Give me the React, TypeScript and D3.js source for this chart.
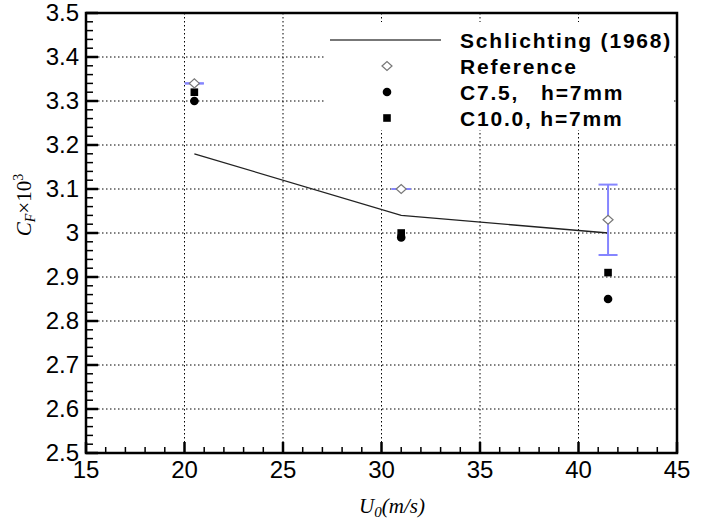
import React, { useEffect, useRef } from 'react';
import * as d3 from 'd3';

// free-stream speed (m/s) of the three test cases
const speeds = [20.5, 31, 41.5];
const schlichting = [3.18, 3.04, 3.0];
const reference = [3.34, 3.1, 3.03];
const referenceErr = [0, 0, 0.08];
const c75 = [3.3, 2.99, 2.85];
const c100 = [3.32, 3.0, 2.91];

const xTicks = [15, 20, 25, 30, 35, 40, 45];
const yTicks = [2.5, 2.6, 2.7, 2.8, 2.9, 3, 3.1, 3.2, 3.3, 3.4, 3.5];

const legendItems = ['Schlichting (1968)', 'Reference', 'C7.5,', 'C10.0, h=7mm'];

const App = () => {
  const svgRef = useRef<SVGSVGElement>(null);

  useEffect(() => {
    const svg = d3.select(svgRef.current);
    svg.selectAll('*').remove();

    const left = 86, right = 677, top = 13, bottom = 453;
    const x = d3.scaleLinear().domain([15, 45]).range([left, right]);
    const y = d3.scaleLinear().domain([2.5, 3.5]).range([bottom, top]);

    const tickFont = '"Liberation Sans", Arial, sans-serif';

    // dotted grid
    const grid = svg.append('g').attr('stroke', '#000').attr('stroke-width', 1)
      .attr('stroke-dasharray', '1.5,2.5');
    xTicks.slice(1, -1).forEach(t => {
      grid.append('line').attr('x1', x(t)).attr('x2', x(t)).attr('y1', top).attr('y2', bottom);
    });
    yTicks.slice(1, -1).forEach(t => {
      grid.append('line').attr('x1', left).attr('x2', right).attr('y1', y(t)).attr('y2', y(t));
    });

    // legend box
    svg.append('rect')
      .attr('x', 324).attr('y', 22).attr('width', 348).attr('height', 108)
      .attr('fill', '#fff');

    // Schlichting line
    const line = d3.line<number>()
      .x((d, i) => x(speeds[i]))
      .y(d => y(d));
    svg.append('path')
      .datum(schlichting)
      .attr('d', line)
      .attr('fill', 'none')
      .attr('stroke', '#222')
      .attr('stroke-width', 1.3);

    // error bars on reference
    const eb = svg.append('g').attr('stroke', '#8585ff').attr('stroke-width', 2);
    reference.forEach((v, i) => {
      const cx = x(speeds[i]);
      const hi = y(v + referenceErr[i]);
      const lo = y(v - referenceErr[i]);
      eb.append('line').attr('x1', cx).attr('x2', cx).attr('y1', hi).attr('y2', lo);
      eb.append('line').attr('x1', cx - 9.5).attr('x2', cx + 9.5).attr('y1', hi).attr('y2', hi);
      eb.append('line').attr('x1', cx - 9.5).attr('x2', cx + 9.5).attr('y1', lo).attr('y2', lo);
    });

    const diamond = (cx: number, cy: number) =>
      `M${cx - 5},${cy}L${cx},${cy - 4.5}L${cx + 5},${cy}L${cx},${cy + 4.5}Z`;

    // C10.0 squares
    svg.selectAll('.sq').data(c100).enter().append('rect')
      .attr('x', (d, i) => x(speeds[i]) - 3.8)
      .attr('y', d => y(d) - 3.8)
      .attr('width', 7.6).attr('height', 7.6)
      .attr('fill', '#000');

    // C7.5 circles
    svg.selectAll('.ci').data(c75).enter().append('circle')
      .attr('cx', (d, i) => x(speeds[i]))
      .attr('cy', d => y(d))
      .attr('r', 4.3)
      .attr('fill', '#000');

    // reference diamonds
    svg.selectAll('.di').data(reference).enter().append('path')
      .attr('d', (d, i) => diamond(x(speeds[i]), y(d)))
      .attr('fill', '#fff')
      .attr('stroke', '#777')
      .attr('stroke-width', 1.2);

    // ticks
    const ticks = svg.append('g').attr('stroke', '#000');
    d3.range(15, 45.01, 1).forEach(t => {
      const major = Math.abs(t % 5) < 1e-6;
      ticks.append('line')
        .attr('x1', x(t)).attr('x2', x(t))
        .attr('y1', bottom).attr('y2', bottom - (major ? 11 : 6))
        .attr('stroke-width', major ? 2.5 : 1.5);
    });
    d3.range(0, 51).forEach(k => {
      const t = 2.5 + k * 0.02;
      const major = k % 5 === 0;
      ticks.append('line')
        .attr('x1', left).attr('x2', left + (major ? 12 : 7))
        .attr('y1', y(t)).attr('y2', y(t))
        .attr('stroke-width', major ? 2.5 : 1.5);
    });

    // frame
    svg.append('rect')
      .attr('x', left).attr('y', top)
      .attr('width', right - left).attr('height', bottom - top)
      .attr('fill', 'none').attr('stroke', '#000').attr('stroke-width', 2.5);

    // tick labels
    svg.selectAll('.xt').data(xTicks).enter().append('text')
      .attr('x', d => x(d)).attr('y', 478)
      .attr('text-anchor', 'middle')
      .style('font-family', tickFont).style('font-size', '24px')
      .text(d => d);
    svg.selectAll('.yt').data(yTicks).enter().append('text')
      .attr('x', 79).attr('y', d => y(d) - 1).attr('dy', '0.36em')
      .attr('text-anchor', 'end')
      .style('font-family', tickFont).style('font-size', '24px')
      .text(d => d);

    // axis titles
    const serif = '"Liberation Serif", "Times New Roman", serif';
    const xl = svg.append('text')
      .attr('x', 392).attr('y', 513).attr('text-anchor', 'middle')
      .style('font-family', serif).style('font-size', '21px').style('font-style', 'italic');
    xl.append('tspan').text('U');
    xl.append('tspan').attr('dy', 4).style('font-size', '15px').text('0');
    xl.append('tspan').attr('dy', -4).text('(m/s)');

    const yl = svg.append('text')
      .attr('transform', 'translate(31,205) rotate(-90)')
      .attr('text-anchor', 'middle')
      .style('font-family', serif).style('font-size', '21px');
    yl.append('tspan').style('font-style', 'italic').text('C');
    yl.append('tspan').attr('dy', 4).style('font-style', 'italic').style('font-size', '14px').text('F');
    yl.append('tspan').attr('dy', -4).text('\u00d710');
    yl.append('tspan').attr('dy', -8).style('font-size', '14px').text('3');

    // legend
    const lg = svg.append('g');
    const lfont = (s: any) => s.style('font-family', tickFont).style('font-size', '21px')
      .style('font-weight', 'bold').style('letter-spacing', '1.8px');
    const rows = [40, 66, 92, 118];
    lg.append('line').attr('x1', 330).attr('x2', 441).attr('y1', rows[0]).attr('y2', rows[0])
      .attr('stroke', '#777').attr('stroke-width', 2);
    lg.append('path').attr('d', diamond(387, rows[1]))
      .attr('fill', '#fff').attr('stroke', '#777').attr('stroke-width', 1.2);
    lg.append('circle').attr('cx', 387).attr('cy', rows[2]).attr('r', 4.3).attr('fill', '#000');
    lg.append('rect').attr('x', 383.2).attr('y', rows[3] - 3.8).attr('width', 7.6).attr('height', 7.6)
      .attr('fill', '#000');
    legendItems.forEach((t, i) => {
      lfont(lg.append('text').attr('x', 460).attr('y', rows[i] + 7.5).text(t));
    });
    lfont(lg.append('text').attr('x', 541).attr('y', rows[2] + 7.5).text('h=7mm'));
  }, []);

  return (
    <svg
      ref={svgRef}
      width={705}
      height={523}
      style={{ position: 'absolute', left: 0, top: 0, background: '#fff' }}
    />
  );
};

export default App;
